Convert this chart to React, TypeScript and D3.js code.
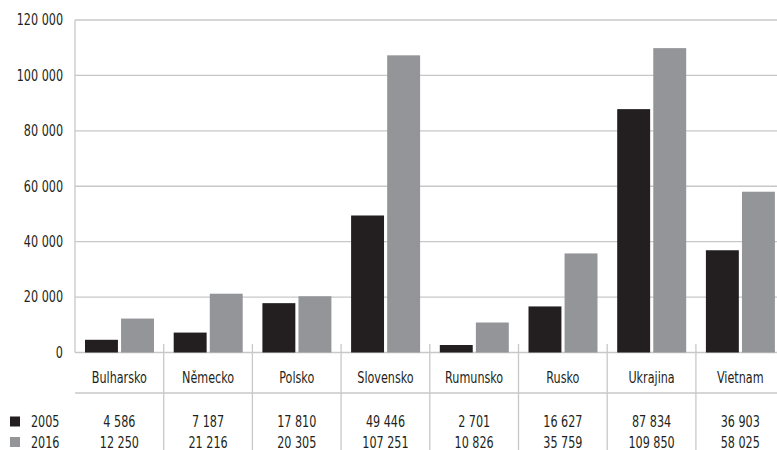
import React from "react";
import * as d3 from "d3";

const categories = ["Bulharsko", "Německo", "Polsko", "Slovensko", "Rumunsko", "Rusko", "Ukrajina", "Vietnam"];
const values2005 = [4586, 7187, 17810, 49446, 2701, 16627, 87834, 36903];
const values2016 = [12250, 21216, 20305, 107251, 10826, 35759, 109850, 58025];
const seriesNames = ["2005", "2016"];
const yTicks = [0, 20000, 40000, 60000, 80000, 100000, 120000];

const W = 777;
const H = 450;
const left = 75;
const bandW = 88.7;
const yTop = 20;
const yZero = 352.5;
const colors = ["#231f20", "#939598"];
const grid = "#c8c8c8";
const font = "'DejaVu Sans Condensed', 'Liberation Sans', sans-serif";
const squeeze = 0.83;

const fmt = (v: number) => d3.format(",")(v).replace(/,/g, " ");

function Label(props: { x: number; y: number; anchor?: string; dy?: string; children: React.ReactNode }) {
  return (
    <text
      transform={`translate(${props.x},${props.y}) scale(${squeeze},1)`}
      dy={props.dy}
      textAnchor={props.anchor || "start"}
      fontSize={15}
      fill="#231f20"
    >
      {props.children}
    </text>
  );
}

export default function App() {
  const x = d3.scaleBand<string>().domain(categories).range([left, left + bandW * categories.length]).paddingInner(0).paddingOuter(0);
  const y = d3.scaleLinear().domain([0, 120000]).range([yZero, yTop]);
  const inner = d3.scaleBand<string>().domain(seriesNames).range([10, 10 + 69]).paddingInner(3 / 34.5);
  const series = [values2005, values2016];
  const tableLineY = 393;
  return (
    <svg width={W} height={H} style={{ position: "absolute", left: 0, top: 0, fontFamily: font }}>
      <rect width={W} height={H} fill="#fff" />
      {yTicks.map((t) => (
        <g key={t}>
          <line x1={left} x2={W} y1={y(t)} y2={y(t)} stroke={grid} strokeWidth={1.3} />
          <Label x={63} y={y(t)} dy="0.36em" anchor="end">
            {fmt(t)}
          </Label>
        </g>
      ))}
      <line x1={left} x2={left} y1={yTop} y2={yZero} stroke={grid} strokeWidth={1.3} />
      {categories.slice(1).concat(["_end"]).map((c, i) => {
        const xs = left + bandW * (i + 1);
        return <line key={c} x1={xs} x2={xs} y1={344} y2={H} stroke={grid} strokeWidth={1.3} />;
      })}
      <line x1={left} x2={W} y1={tableLineY} y2={tableLineY} stroke={grid} strokeWidth={1.3} />
      {categories.map((c, i) => (
        <g key={c}>
          {series.map((s, k) => (
            <rect
              key={k}
              x={(x(c) as number) + (inner(seriesNames[k]) as number)}
              y={y(s[i])}
              width={inner.bandwidth()}
              height={yZero - y(s[i])}
              fill={colors[k]}
            />
          ))}
          <Label x={(x(c) as number) + bandW / 2} y={383} anchor="middle">
            {c}
          </Label>
          <Label x={(x(c) as number) + bandW / 2} y={427} anchor="middle">
            {fmt(values2005[i])}
          </Label>
          <Label x={(x(c) as number) + bandW / 2} y={447.5} anchor="middle">
            {fmt(values2016[i])}
          </Label>
        </g>
      ))}
      {seriesNames.map((n, k) => (
        <g key={n}>
          <rect x={10} y={416.5 + k * 20.5} width={10} height={10} fill={colors[k]} />
          <Label x={31} y={427 + k * 20.5}>
            {n}
          </Label>
        </g>
      ))}
    </svg>
  );
}
